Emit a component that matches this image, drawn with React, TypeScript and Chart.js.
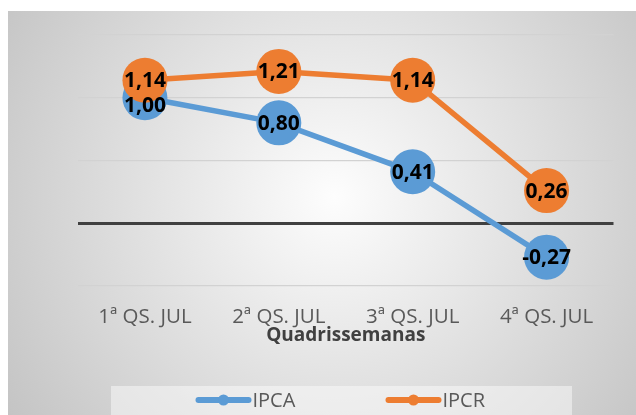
import React, { useEffect, useRef } from "react";
import { Chart, registerables } from "chart.js";

Chart.register(...registerables);

const categories = ["1ª QS. JUL", "2ª QS. JUL", "3ª QS. JUL", "4ª QS. JUL"];
const ipcaValues = [1.0, 0.8, 0.41, -0.27];
const ipcrValues = [1.14, 1.21, 1.14, 0.26];
const seriesNames = ["IPCA", "IPCR"];
const seriesColors = ["#5B9BD5", "#ED7D31"];
const axisTitle = "Quadrissemanas";
const yMin = -0.5;
const yMax = 1.5;
const yStep = 0.5;

const FONT = "'Open Sans', sans-serif";

const fmt = (v: number) => v.toFixed(2).replace(".", ",");

const bgPlugin = {
  id: "bgGradient",
  beforeDraw(chart: any) {
    const { ctx, width, height } = chart;
    ctx.save();
    const cx = width * 0.52;
    const cy = height * 0.46;
    const r = Math.hypot(cx, height - cy);
    const g = ctx.createRadialGradient(cx, cy, 0, cx, cy, r);
    g.addColorStop(0, "#fdfdfd");
    g.addColorStop(1, "#c4c4c4");
    ctx.fillStyle = g;
    ctx.fillRect(0, 0, width, height);
    ctx.restore();
  },
};

const labelPlugin = {
  id: "valueLabels",
  afterDatasetsDraw(chart: any) {
    const { ctx } = chart;
    ctx.save();
    ctx.font = `bold 21px ${FONT}`;
    ctx.fillStyle = "#000000";
    ctx.textAlign = "center";
    ctx.textBaseline = "middle";
    chart.data.datasets.forEach((ds: any, di: number) => {
      const meta = chart.getDatasetMeta(di);
      meta.data.forEach((pt: any, i: number) => {
        const nudge = di === 0 && i === 0 ? 8 : 1;
        ctx.fillText(fmt(ds.data[i]), pt.x, pt.y + nudge);
      });
    });
    ctx.restore();
  },
};

const legendPlugin = {
  id: "lineLegend",
  afterDraw(chart: any) {
    const { ctx } = chart;
    const box = { x: 103, y: 375, w: 461, h: 40 };
    ctx.save();
    ctx.fillStyle = "rgba(255,255,255,0.45)";
    ctx.fillRect(box.x, box.y, box.w, box.h);
    const cy = 389;
    ctx.font = `20px ${FONT}`;
    chart.data.datasets.forEach((ds: any, i: number) => {
      const x0 = box.x + box.w / 2 - 146 + i * 190;
      ctx.strokeStyle = ds.borderColor;
      ctx.lineWidth = 6;
      ctx.lineCap = "round";
      ctx.beginPath();
      ctx.moveTo(x0 + 3, cy);
      ctx.lineTo(x0 + 53, cy);
      ctx.stroke();
      ctx.fillStyle = ds.borderColor;
      ctx.beginPath();
      ctx.arc(x0 + 28, cy, 5.5, 0, Math.PI * 2);
      ctx.fill();
      ctx.fillStyle = "#595959";
      ctx.textAlign = "left";
      ctx.textBaseline = "middle";
      ctx.fillText(ds.label, x0 + 57, cy + 1);
    });
    ctx.restore();
  },
};

export default function App() {
  const ref = useRef<HTMLCanvasElement>(null);
  useEffect(() => {
    if (!ref.current) return;
    const chart = new Chart(ref.current, {
      type: "line",
      data: {
        labels: categories,
        datasets: [
          {
            label: seriesNames[0],
            data: ipcaValues,
            borderColor: seriesColors[0],
            backgroundColor: seriesColors[0],
            pointBackgroundColor: seriesColors[0],
            borderWidth: 5.5,
            pointRadius: 22.5,
            pointBorderWidth: 0,
            tension: 0,
            clip: false as any,
            order: 1,
          },
          {
            label: seriesNames[1],
            data: ipcrValues,
            borderColor: seriesColors[1],
            backgroundColor: seriesColors[1],
            pointBackgroundColor: seriesColors[1],
            borderWidth: 5.5,
            pointRadius: 22.5,
            pointBorderWidth: 0,
            tension: 0,
            clip: false as any,
            order: 0,
          },
        ],
      },
      options: {
        responsive: false,
        animation: false,
        layout: { padding: { left: 70, right: 13, top: 24, bottom: 70 } },
        plugins: {
          legend: { display: false },
          tooltip: { enabled: false },
        },
        scales: {
          x: {
            offset: true,
            grid: { display: false, drawTicks: false },
            border: { display: false },
            ticks: {
              color: "#595959",
              font: { family: FONT, size: 20.5, lineHeight: 1 },
              padding: 21,
              maxRotation: 0,
            },
            title: {
              display: true,
              text: axisTitle,
              color: "#404040",
              font: { family: FONT, size: 19, weight: "bold", lineHeight: 1 },
              padding: { top: 0, bottom: 0 },
            },
            afterFit(scale: any) {
              scale.height = 59;
            },
          },
          y: {
            min: yMin,
            max: yMax,
            ticks: { display: false, stepSize: yStep },
            border: { display: false },
            grid: {
              drawTicks: false,
              color: (c: any) => (c.tick && c.tick.value === 0 ? "#404040" : "#d2d2d2"),
              lineWidth: (c: any) => (c.tick && c.tick.value === 0 ? 3 : 1.3),
            },
          },
        },
      },
      plugins: [bgPlugin, labelPlugin, legendPlugin],
    });
    return () => chart.destroy();
  }, []);
  return (
    <div style={{ position: "absolute", left: 8, top: 11, width: 628, height: 404 }}>
      <canvas ref={ref} width={628} height={404} style={{ width: 628, height: 404, display: "block" }} />
    </div>
  );
}
